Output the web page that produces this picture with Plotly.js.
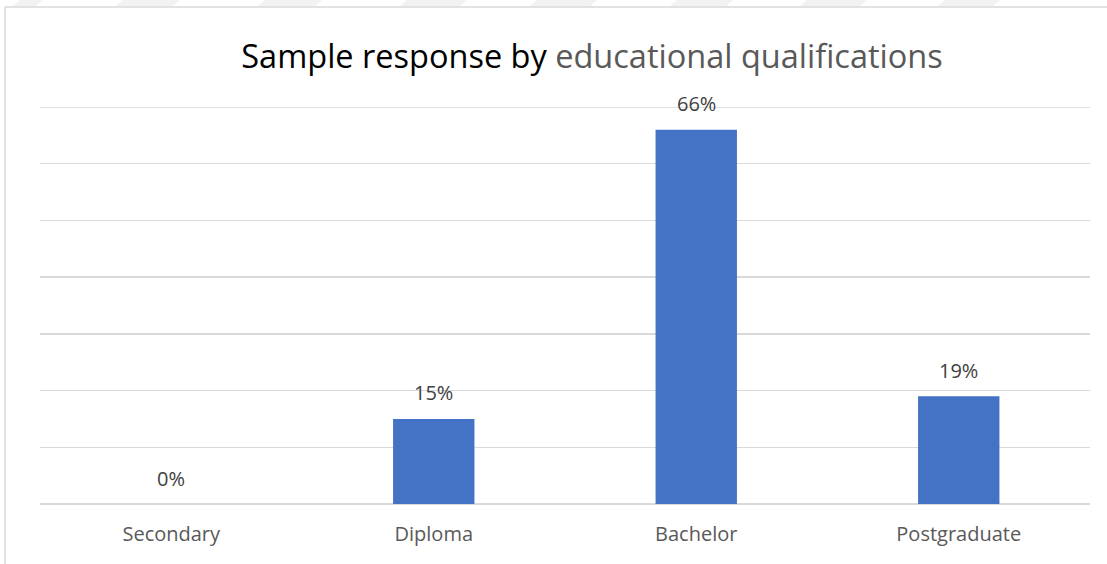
<!DOCTYPE html>
<html>
<head>
<meta charset="utf-8">
<script src="https://cdn.plot.ly/plotly-3.0.1.min.js"></script>
<style>html,body{margin:0;padding:0;background:#fff;}#chart{width:1107px;height:564px;}</style>
</head>
<body>
<div id="chart"></div>
<script>
const categories = ["Secondary", "Diploma", "Bachelor", "Postgraduate"];
const values = [0, 15, 66, 19];
const labels = ["0%", "15%", "66%", "19%"];
const titleMain = "Sample response by";
const titleSub = "educational qualifications";
const yMax = 70;

const W = 1107, H = 564;
const M = {l: 40, r: 17, t: 107, b: 60};
const pw = W - M.l - M.r, ph = H - M.t - M.b;
const px = x => (x - M.l) / pw;
const py = y => (H - M.b - y) / ph;
const FONT = '"Open Sans", Lato, sans-serif';

const shapes = [
  {type: 'line', xref: 'paper', yref: 'paper', x0: px(5), x1: px(5), y0: py(7), y1: py(H + 5), line: {color: '#d9d9d9', width: 1.5}},
  {type: 'line', xref: 'paper', yref: 'paper', x0: px(5), x1: px(W + 5), y0: py(7), y1: py(7), line: {color: '#d9d9d9', width: 1.5}},
  {type: 'line', xref: 'paper', yref: 'y', x0: 0, x1: 1, y0: yMax, y1: yMax, line: {color: '#d9d9d9', width: 1.5}}
];
const stripes = [[20, 43], [123, 180], [265, 322], [407, 467], [537, 597], [677, 733], [807, 867], [945, 1000]];
stripes.forEach(s => {
  const [a, b] = s;
  shapes.push({type: 'path', xref: 'paper', yref: 'paper', layer: 'below',
    path: `M ${px(a)} ${py(0)} L ${px(b)} ${py(0)} L ${px(b - 7)} ${py(6)} L ${px(a - 7)} ${py(6)} Z`,
    fillcolor: '#f2f2f2', line: {width: 0}});
});

const annotations = categories.map((c, i) => ({
  x: c, y: values[i], xref: 'x', yref: 'y', text: labels[i], showarrow: false,
  yanchor: 'middle', yshift: 26, font: {family: FONT, size: 20, color: '#404040'}
}));

const trace = {
  type: 'bar', x: categories, y: values,
  marker: {color: '#4472C4'}, hoverinfo: 'none'
};

const layout = {
  width: W, height: H,
  margin: M,
  paper_bgcolor: '#ffffff', plot_bgcolor: '#ffffff',
  showlegend: false,
  bargap: 0.69,
  title: {
    text: titleMain + ' <span style="color:#595959">' + titleSub + '</span>',
    font: {family: FONT, size: 32.5, color: '#000000'},
    x: 592 / W, xanchor: 'center', xref: 'container',
    y: 1 - 57 / H, yanchor: 'middle', yref: 'container'
  },
  xaxis: {
    type: 'category', showgrid: false, zeroline: false, showline: false, ticks: '',
    tickfont: {family: FONT, size: 20, color: '#595959'},
    ticklabelstandoff: 16, fixedrange: true
  },
  yaxis: {
    range: [0, yMax], dtick: 10, showticklabels: false, ticks: '',
    showgrid: true, gridcolor: '#d9d9d9', gridwidth: 1.5,
    zeroline: true, zerolinecolor: '#d9d9d9', zerolinewidth: 1.5, fixedrange: true
  },
  shapes: shapes,
  annotations: annotations
};

Plotly.newPlot('chart', [trace], layout, {displayModeBar: false, staticPlot: true});
</script>
</body>
</html>
